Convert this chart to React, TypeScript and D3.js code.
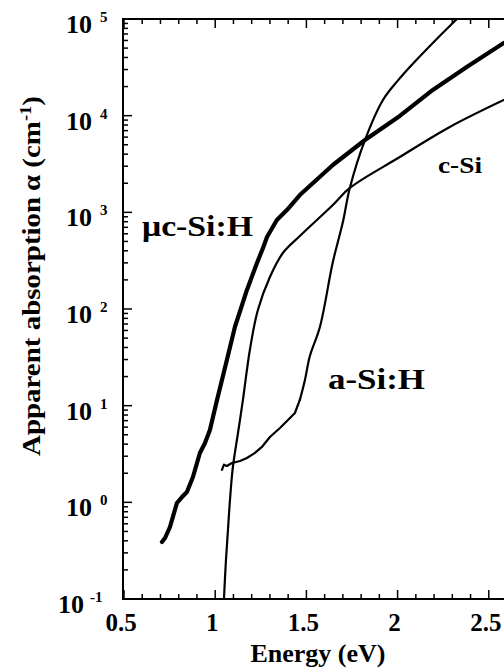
import React from "react";
import * as d3 from "d3";

// Energy (eV) and log10(alpha)
const ucEnergy = [0.708, 0.725, 0.752, 0.79, 0.818, 0.845, 0.878, 0.916, 0.944, 0.971, 1.01, 1.064, 1.108, 1.174, 1.229, 1.262, 1.284, 1.338, 1.393, 1.464, 1.645, 1.821, 2.012, 2.193, 2.379, 2.582];
const ucLogAlpha = [-0.41, -0.369, -0.255, -0.007, 0.055, 0.107, 0.262, 0.51, 0.614, 0.748, 1.059, 1.473, 1.814, 2.197, 2.476, 2.631, 2.745, 2.921, 3.024, 3.179, 3.49, 3.748, 3.997, 4.266, 4.503, 4.752];

const aEnergy = [1.037, 1.048, 1.064, 1.092, 1.136, 1.174, 1.218, 1.256, 1.3, 1.355, 1.41, 1.437, 1.464, 1.492, 1.519, 1.574, 1.645, 1.7, 1.738, 1.821, 1.919, 2.0, 2.067, 2.193, 2.325];
const aLogAlpha = [0.335, 0.39, 0.376, 0.407, 0.428, 0.459, 0.511, 0.573, 0.676, 0.769, 0.873, 0.924, 1.059, 1.266, 1.514, 1.814, 2.486, 2.9, 3.252, 3.748, 4.16, 4.36, 4.503, 4.752, 5.0];

const cEnergy = [1.048, 1.059, 1.07, 1.081, 1.097, 1.125, 1.152, 1.19, 1.234, 1.3, 1.371, 1.464, 1.645, 1.738, 2.012, 2.286, 2.582];
const cLogAlpha = [-1.0, -0.596, -0.286, 0.024, 0.366, 0.717, 1.059, 1.576, 1.99, 2.331, 2.579, 2.755, 3.076, 3.252, 3.572, 3.883, 4.162];

const xMajorTicks = [0.5, 1, 1.5, 2, 2.5, 3];
const xTickLabels = ["0.5", "1", "1.5", "2", "2.5", "3"];
const yExponents = [5, 4, 3, 2, 1, 0, -1];

const W = 504;
const H = 672;
const left = 123;
const top = 19;
const bottom = 599;
const right = 580;

export default function App() {
  const x = d3.scaleLinear().domain([0.5, 3]).range([124, right]);
  const y = d3.scaleLog().domain([0.1, 1e5]).range([bottom, top]);

  const line = d3
    .line<[number, number]>()
    .x((d) => x(d[0]))
    .y((d) => y(Math.pow(10, d[1])));
  const smooth = d3
    .line<[number, number]>()
    .x((d) => x(d[0]))
    .y((d) => y(Math.pow(10, d[1])))
    .curve(d3.curveCatmullRom.alpha(0.5));

  const uc = ucEnergy.map((e, i) => [e, ucLogAlpha[i]] as [number, number]);
  const a = aEnergy.map((e, i) => [e, aLogAlpha[i]] as [number, number]);
  const c = cEnergy.map((e, i) => [e, cLogAlpha[i]] as [number, number]);
  const aLow = a.filter((d) => d[0] <= 1.465);
  const aHigh = a.filter((d) => d[0] >= 1.464);

  const minorX = d3.range(5, 31).map((v) => v / 10).filter((v) => Math.abs(v * 2 - Math.round(v * 2)) > 1e-6);
  const minorY: number[] = [];
  for (let e = -1; e < 5; e++) for (let k = 2; k <= 9; k++) minorY.push(k * Math.pow(10, e));

  const font = "'Liberation Serif', 'Times New Roman', serif";
  const sw = 2;

  return (
    <svg width={W} height={H} style={{ position: "absolute", left: 0, top: 0, background: "#fff" }} fontFamily={font} fontWeight="bold">
      <defs>
        <clipPath id="plot">
          <rect x={left} y={top} width={right - left} height={bottom - top} />
        </clipPath>
      </defs>
      <rect width={W} height={H} fill="#fff" />

      {/* curves */}
      <g clipPath="url(#plot)" fill="none" stroke="#000" strokeLinejoin="round" strokeLinecap="round">
        <path d={smooth(c) || ""} strokeWidth={2.2} />
        <path d={line(aLow) || ""} strokeWidth={2.2} />
        <path d={smooth(aHigh) || ""} strokeWidth={2.2} />
        <path d={line(uc) || ""} strokeWidth={4.2} />
      </g>

      {/* axes frame */}
      <g stroke="#000" strokeWidth={sw} fill="none">
        <line x1={left} x2={right} y1={bottom} y2={bottom} />
        <line x1={left} x2={right} y1={top} y2={top} />
        <line x1={left} x2={left} y1={top - 1} y2={bottom + 1} />
      </g>

      {/* x ticks */}
      <g stroke="#000" strokeWidth={1.5}>
        {xMajorTicks.map((t) => (
          <g key={"xm" + t}>
            <line x1={x(t)} x2={x(t)} y1={bottom} y2={bottom - 9} />
            <line x1={x(t)} x2={x(t)} y1={top} y2={top + 9} />
          </g>
        ))}
        {minorX.map((t) => (
          <g key={"xn" + t}>
            <line x1={x(t)} x2={x(t)} y1={bottom} y2={bottom - 5} />
            <line x1={x(t)} x2={x(t)} y1={top} y2={top + 5} />
          </g>
        ))}
      </g>

      {/* y ticks */}
      <g stroke="#000" strokeWidth={1.5}>
        {yExponents.map((e) => (
          <line key={"ym" + e} x1={left} x2={left + 9} y1={y(Math.pow(10, e))} y2={y(Math.pow(10, e))} />
        ))}
        {minorY.map((v) => (
          <line key={"yn" + v} x1={left} x2={left + 5} y1={y(v)} y2={y(v)} />
        ))}
      </g>

      {/* x tick labels */}
      <g fontSize={25} textAnchor="middle">
        {xMajorTicks.map((t, i) => (
          <text key={"xl" + t} x={x(t) - 3} y={631}>
            {xTickLabels[i]}
          </text>
        ))}
      </g>

      {/* y tick labels */}
      <g>
        {yExponents.map((e) => {
          const yy = y(Math.pow(10, e));
          const neg = e < 0;
          return (
            <g key={"yl" + e}>
              <text x={neg ? 84 : 92} y={yy + 14} fontSize={26} textAnchor="end">
                10
              </text>
              <text x={neg ? 90 : 100} y={yy + 3} fontSize={15} textAnchor="start">
                {neg ? "-" + Math.abs(e) : String(e)}
              </text>
            </g>
          );
        })}
      </g>

      {/* axis titles */}
      <text x={318} y={662} fontSize={26} textAnchor="middle">
        Energy (eV)
      </text>
      <text
        transform="translate(40,276) rotate(-90)"
        fontSize={25}
        textAnchor="middle"
        textLength={360}
        lengthAdjust="spacingAndGlyphs"
      >
        Apparent absorption{"\u2009"}α (cm<tspan dy={-9} fontSize={16}>-1</tspan>
        <tspan dy={9}>)</tspan>
      </text>

      {/* curve labels */}
      <text x={142} y={236} fontSize={30} textLength={111} lengthAdjust="spacingAndGlyphs">
        μc-Si:H
      </text>
      <text x={328} y={389} fontSize={30} textLength={97} lengthAdjust="spacingAndGlyphs">
        a-Si:H
      </text>
      <text x={438} y={173} fontSize={23} textLength={44} lengthAdjust="spacingAndGlyphs">
        c-Si
      </text>
    </svg>
  );
}
